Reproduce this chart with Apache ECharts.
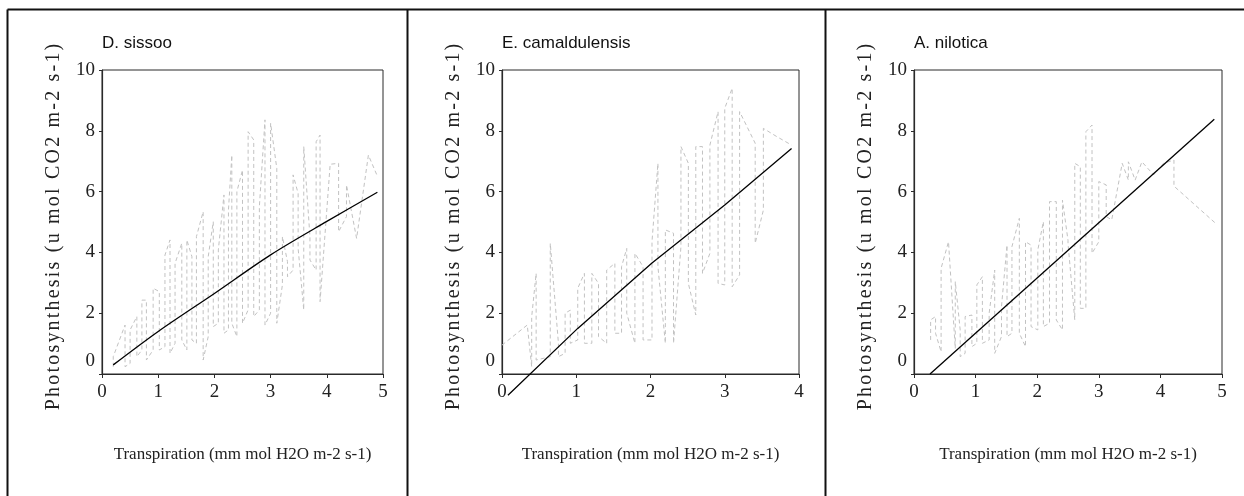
<!DOCTYPE html>
<html><head><meta charset="utf-8">
<script src="https://cdn.jsdelivr.net/npm/echarts@6/dist/echarts.min.js"></script>
<style>html,body{margin:0;padding:0;background:#fff}#c{width:1244px;height:496px}</style>
</head><body><div id="c"></div>
<script>
// ---- text ----
const panelTitles = ['D. sissoo', 'E. camaldulensis', 'A. nilotica'];
const xAxisName = 'Transpiration (mm mol H2O m-2 s-1)';
const yAxisName = 'Photosynthesis (u mol CO2 m-2 s-1)';
const xAxisMax = [5, 4, 5];
const yAxisMax = 10;

// ---- D. sissoo: observed (columns of low/high values, in x order) ----
const sissooX  = [0.20,0.41,0.50,0.62,0.71,0.79,0.91,1.02,1.12,1.21,1.30,1.42,1.51,1.60,1.68,1.80,1.89,1.98,2.07,2.17,2.25,2.31,2.40,2.50,2.60,2.70,2.80,2.90,3.00,3.11,3.21,3.30,3.40,3.49,3.59,3.70,3.81,3.88,4.06,4.21,4.35,4.53,4.74,4.89];
const sissooLo = [0.24,0.24,0.35,0.57,0.79,0.46,0.79,0.79,0.90,0.68,1.01,1.12,0.79,1.12,1.01,0.46,1.23,1.56,1.67,1.34,1.45,1.67,1.23,1.67,2.11,1.89,2.11,1.61,2.00,1.67,2.93,3.20,3.42,4.13,2.11,3.75,3.42,2.38,6.90,4.68,5.18,4.46,7.20,6.55];
const sissooHi = [0.57,1.61,1.45,1.89,2.43,2.43,2.82,2.71,3.91,4.41,3.64,4.30,4.41,3.86,4.52,5.34,3.86,5.01,4.08,5.89,5.39,7.20,6.00,6.71,7.97,7.70,5.50,8.36,8.25,6.77,4.52,3.70,6.55,5.94,7.48,4.52,7.64,7.86,6.90,6.93,6.22,4.46,7.20,6.55];
const sissooFitX = [0.2, 1.0, 2.0, 3.0, 4.0, 4.9];
const sissooFitY = [0.30, 1.40, 2.65, 3.92, 5.02, 5.98];

// ---- E. camaldulensis ----
const camalX  = [0.00,0.34,0.40,0.46,0.65,0.76,0.85,0.92,1.02,1.11,1.21,1.30,1.41,1.52,1.61,1.68,1.79,1.90,2.02,2.10,2.20,2.31,2.41,2.51,2.61,2.70,2.80,2.91,3.00,3.10,3.20,3.41,3.52,3.70,3.90];
const camalLo = [0.95,1.61,0.24,0.46,0.57,0.57,0.68,1.01,1.12,1.01,1.01,1.23,1.01,1.34,1.34,2.00,1.01,1.12,1.12,3.53,1.01,1.01,4.19,2.98,1.94,3.31,3.97,2.98,2.93,2.87,3.26,4.30,5.39,7.81,7.53];
const camalHi = [0.95,1.61,1.89,3.31,4.30,1.01,2.00,2.10,2.82,3.31,3.31,2.98,3.42,3.64,3.53,4.13,3.97,3.53,4.35,6.93,4.74,4.63,7.48,6.93,7.48,7.48,7.53,8.63,8.74,9.40,8.63,7.59,8.08,7.81,7.53];
const camalFitX = [0.08, 1.02, 2.02, 3.0, 3.9];
const camalFitY = [-0.70, 1.50, 3.65, 5.56, 7.42];

// ---- A. nilotica ----
const niloX  = [0.27,0.35,0.44,0.56,0.67,0.75,0.83,0.94,1.02,1.11,1.22,1.31,1.42,1.51,1.59,1.71,1.81,1.90,2.01,2.10,2.20,2.31,2.41,2.50,2.61,2.70,2.79,2.89,3.00,3.12,3.21,3.38,3.48,3.59,3.70,3.89,4.05,4.22,4.90];
const niloLo = [1.12,1.34,0.73,4.35,0.84,0.57,0.68,0.90,1.01,1.01,1.12,0.68,1.23,1.23,1.34,1.34,0.90,1.56,1.45,1.56,1.67,1.78,1.45,4.30,1.78,2.16,2.16,3.97,4.35,5.18,5.07,6.93,6.38,6.38,6.98,6.55,6.93,6.18,4.95];
const niloHi = [1.78,1.89,3.48,4.35,3.04,1.45,1.89,1.94,2.93,3.20,2.00,3.42,2.21,4.24,4.19,5.12,4.35,4.24,4.08,5.01,5.67,5.67,5.72,4.40,6.93,6.82,7.97,8.19,6.33,6.22,5.07,6.93,6.98,6.38,6.98,6.55,6.93,7.04,4.95];
const niloFitX = [0.26, 4.875];
const niloFitY = [0.0, 8.38];

// ---- build ----
function zigzag(xs, lo, hi) {
  const out = [];
  xs.forEach((x, i) => {
    if (i % 2 === 0) { out.push([x, lo[i]], [x, hi[i]]); }
    else { out.push([x, hi[i]], [x, lo[i]]); }
  });
  return out;
}
function pairs(xs, ys) { return xs.map((x, i) => [x, ys[i]]); }

const observed = [
  zigzag(sissooX, sissooLo, sissooHi),
  zigzag(camalX, camalLo, camalHi),
  zigzag(niloX, niloLo, niloHi)
];
const fitted = [
  pairs(sissooFitX, sissooFitY),
  pairs(camalFitX, camalFitY),
  pairs(niloFitX, niloFitY)
];

const grids = [
  { left: 102, top: 70, width: 281, height: 304 },
  { left: 502, top: 70, width: 297, height: 304 },
  { left: 914, top: 70, width: 308, height: 304 }
];

const serif = "'Liberation Serif', 'Times New Roman', serif";
const sans = "'Liberation Sans', Arial, sans-serif";
const axisColor = '#2a2a2a';

const yNameRich = yAxisName.split('').map(c => '{s|' + c + '}').join('');

const option = {
  animation: false,
  backgroundColor: '#fff',
  title: panelTitles.map((t, i) => ({
    text: t, left: grids[i].left, top: 35, padding: 0,
    textStyle: { fontFamily: sans, fontSize: 17, fontWeight: 'normal', color: '#111' }
  })),
  grid: grids.map(g => Object.assign({ show: true, borderColor: axisColor, borderWidth: 1, containLabel: false }, g)),
  xAxis: xAxisMax.map((m, i) => ({
    type: 'value', gridIndex: i, min: 0, max: m, interval: 1,
    name: xAxisName, nameLocation: 'middle', nameGap: 72,
    nameTextStyle: { fontFamily: serif, fontSize: 17, color: '#222' },
    axisLine: { show: true, onZero: false, lineStyle: { color: axisColor, width: 1.2 } },
    axisTick: { show: true, inside: false, length: 4, lineStyle: { color: axisColor } },
    axisLabel: { fontFamily: serif, fontSize: 19, color: '#222', margin: 9 },
    splitLine: { show: false }
  })),
  yAxis: xAxisMax.map((m, i) => ({
    type: 'value', gridIndex: i, min: 0, max: yAxisMax, interval: 2,
    name: yNameRich, nameLocation: 'middle', nameGap: 38,
    nameTextStyle: {
      fontFamily: serif, fontSize: 20, color: '#222', padding: [0, 10, 0, 0],
      rich: { s: { fontFamily: serif, fontSize: 20, color: '#222', padding: [0, 1.1, 0, 1.1] } }
    },
    axisLine: { show: true, onZero: false, lineStyle: { color: axisColor, width: 1.2 } },
    axisTick: { show: true, inside: false, length: 3, lineStyle: { color: axisColor } },
    axisLabel: {
      fontFamily: serif, fontSize: 19, color: '#222', margin: 7,
      formatter: v => (v === 0 ? '{z|0}' : String(v)),
      rich: { z: { fontFamily: serif, fontSize: 19, color: '#222', padding: [0, 0, 26, 0] } }
    },
    splitLine: { show: false }
  })),
  series: [].concat(
    observed.map((d, i) => ({
      type: 'line', xAxisIndex: i, yAxisIndex: i, data: d, showSymbol: false, clip: false,
      lineStyle: { color: '#c2c2c2', width: 1, type: [4, 3] }, z: 2
    })),
    fitted.map((d, i) => ({
      type: 'line', xAxisIndex: i, yAxisIndex: i, data: d, showSymbol: false, clip: false,
      smooth: i === 0 ? 0.3 : false,
      lineStyle: { color: '#000', width: 1.3 }, z: 3
    }))
  ),
  graphic: [
    { type: 'line', shape: { x1: 7.5, y1: 9.5, x2: 1244, y2: 9.5 }, style: { stroke: '#111', lineWidth: 2 } },
    { type: 'line', shape: { x1: 7.5, y1: 9.5, x2: 7.5, y2: 496 }, style: { stroke: '#111', lineWidth: 2 } },
    { type: 'line', shape: { x1: 407.5, y1: 9.5, x2: 407.5, y2: 496 }, style: { stroke: '#111', lineWidth: 2 } },
    { type: 'line', shape: { x1: 825.5, y1: 9.5, x2: 825.5, y2: 496 }, style: { stroke: '#111', lineWidth: 2 } }
  ]
};

const chart = echarts.init(document.getElementById('c'), null, { renderer: 'canvas' });
chart.setOption(option);
</script>
</body></html>
